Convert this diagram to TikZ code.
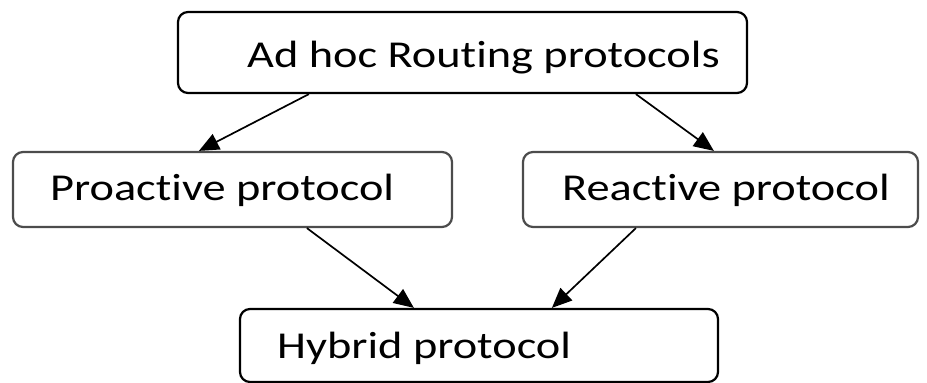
\documentclass[tikz,border=0pt]{standalone}
\usepackage{fontspec}
\setmainfont{Carlito}[RawFeature={-liga;-clig}]
\usepackage{graphicx}
\usetikzlibrary{arrows.meta}
\tikzset{
  box/.style={draw=#1, line width=2.2pt, rounded corners=10pt, inner sep=0pt, fill=white},
  box/.default=black,
  lbl/.style={anchor=base west, inner sep=0pt, font=\fontsize{38}{40}\selectfont},
  arr/.style={line width=1.7pt, -{Triangle[length=20pt,width=17pt]}},
}
\newcommand{\wide}[1]{\scalebox{1.22}[1]{#1}}
\newcommand{\nolig}{\kern0pt }
\begin{document}
\begin{tikzpicture}[x=1pt,y=-1pt]
\useasboundingbox (0,0) rectangle (927,383);
\node[box=black, minimum width=569pt, minimum height=81pt] (top) at (462.5,52.5) {};
\node[box={black!70}, minimum width=439pt, minimum height=75pt] (pro) at (232.5,189.5) {};
\node[box={black!70}, minimum width=395pt, minimum height=75pt] (rea) at (720.5,189.5) {};
\node[box=black, minimum width=478pt, minimum height=73pt] (hyb) at (479,345.5) {};
\node[lbl] (ttop) at (247,67) {\wide{Ad hoc Rout\nolig ing protocols}};
\node[lbl] (tpro) at (50,200) {\wide{Proact\nolig ive protocol}};
\node[lbl] (trea) at (562,200) {\wide{React\nolig ive protocol}};
\node[lbl] (thyb) at (277,358) {\wide{Hybrid protocol}};
\draw[arr] ([xshift=132pt]top.south west) -- ([xshift=187pt]pro.north west);
\draw[arr] ([xshift=459pt]top.south west) -- ([xshift=192pt]rea.north west);
\draw[arr] ([xshift=295pt]pro.south west) -- ([xshift=175pt]hyb.north west);
\draw[arr] ([xshift=114pt]rea.south west) -- ([xshift=313pt]hyb.north west);
\end{tikzpicture}
\end{document}
